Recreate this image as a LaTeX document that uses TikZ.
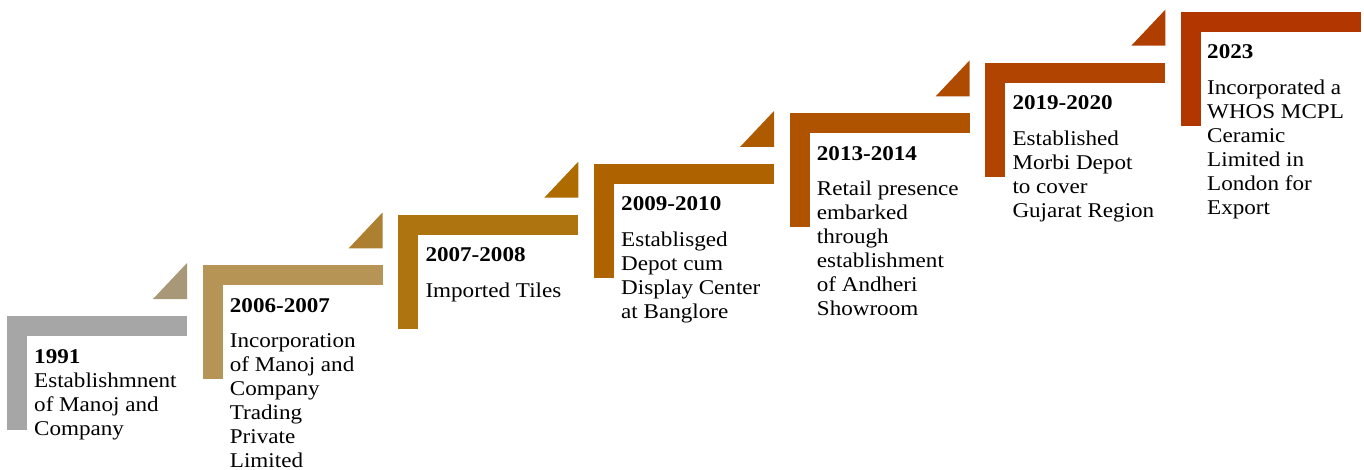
\documentclass[tikz,border=0pt]{standalone}
\usepackage{fontspec}
\setmainfont{Liberation Serif}[FakeStretch=1.1]
\usepackage{tikz}
\usetikzlibrary{positioning}
\definecolor{bar1}{RGB}{166,166,166}
\definecolor{bar2}{RGB}{181,148,85}
\definecolor{bar3}{RGB}{174,116,16}
\definecolor{bar4}{RGB}{175,98,0}
\definecolor{bar5}{RGB}{176,83,0}
\definecolor{bar6}{RGB}{177,68,0}
\definecolor{bar7}{RGB}{178,54,0}
\definecolor{tip1}{RGB}{168,152,120}
\definecolor{tip2}{RGB}{172,128,48}
\definecolor{tip3}{RGB}{173,107,0}
\definecolor{tip4}{RGB}{174,90,0}
\definecolor{tip5}{RGB}{175,75,0}
\definecolor{tip6}{RGB}{176,62,0}
\tikzstyle{year} = [anchor=base west, inner sep=0pt, font=\fontsize{21}{24}\selectfont\bfseries]
\tikzstyle{desc} = [anchor=north west, inner sep=0pt, align=left,
    font=\fontsize{21}{24}\selectfont]
% L-shaped stair: left x, top y, colour
\newcommand{\stair}[3]{%
  \fill[#3] (#1,#2) rectangle ++(180,-20);
  \fill[#3] (#1,#2) rectangle ++(20,-114);}
% small triangle above the stair
\newcommand{\stairtip}[3]{%
  \fill[#3] (#1+146,#2+17) -- (#1+180,#2+17) -- (#1+180,#2+53) -- cycle;}

\begin{document}
\begin{tikzpicture}[x=1pt, y=1pt]
  \useasboundingbox (0,0) rectangle (1364,469);
  \stair{7}{153}{bar1}      \stairtip{7}{153}{tip1}
  \stair{202.7}{203.7}{bar2} \stairtip{202.7}{203.7}{tip2}
  \stair{398.3}{254.3}{bar3} \stairtip{398.3}{254.3}{tip3}
  \stair{594}{305}{bar4}     \stairtip{594}{305}{tip4}
  \stair{789.7}{355.7}{bar5} \stairtip{789.7}{355.7}{tip5}
  \stair{985.3}{406.3}{bar6} \stairtip{985.3}{406.3}{tip6}
  \stair{1181}{457}{bar7}

  \node [year] (y1) at (34,106) {1991};
  \node [desc] (d1) at ([yshift=-9.7pt]y1.base west)
    {Establishmnent\\of Manoj and\\Company};
  \node [year] (y2) at (229.7,156.7) {2006-2007};
  \node [desc] (d2) at ([yshift=-20.7pt]y2.base west)
    {Incorporation\\of Manoj and\\Company\\Trading\\Private\\Limited};
  \node [year] (y3) at (425.3,207.3) {2007-2008};
  \node [desc] (d3) at ([yshift=-20.7pt]y3.base west) {Imported Tiles};
  \node [year] (y4) at (621,258) {2009-2010};
  \node [desc] (d4) at ([yshift=-20.7pt]y4.base west)
    {Establisged\\Depot cum\\Display Center\\at Banglore};
  \node [year] (y5) at (816.7,308.7) {2013-2014};
  \node [desc] (d5) at ([yshift=-20.7pt]y5.base west)
    {Retail presence\\embarked\\through\\establishment\\of Andheri\\Showroom};
  \node [year] (y6) at (1012.3,359.3) {2019-2020};
  \node [desc] (d6) at ([yshift=-20.7pt]y6.base west)
    {Established\\Morbi Depot\\to cover\\Gujarat Region};
  \node [year] (y7) at (1207,410) {2023};
  \node [desc] (d7) at ([yshift=-20.7pt]y7.base west)
    {Incorporated a\\WHOS MCPL\\Ceramic\\Limited in\\London for\\Export};
\end{tikzpicture}
\end{document}
